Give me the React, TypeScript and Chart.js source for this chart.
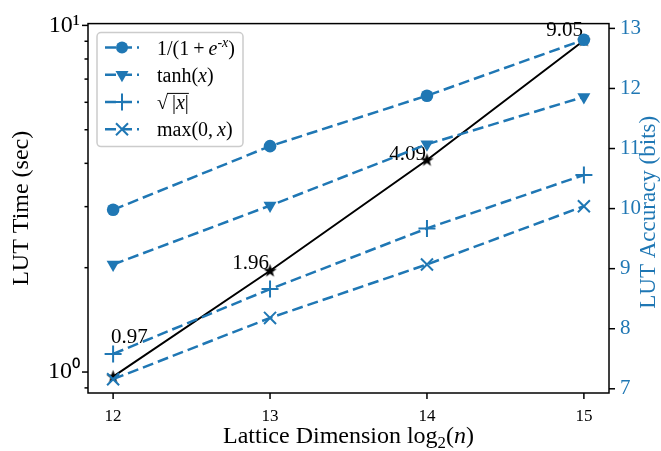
import React, { useEffect, useRef } from 'react';
import { Chart, registerables } from 'chart.js';

Chart.register(...registerables);

// ---------- data ----------
const latticeDims = [12, 13, 14, 15];
const lutTime = [0.97, 1.96, 4.09, 9.05];
const timeLabels = ['0.97', '1.96', '4.09', '9.05'];
const accSigmoid = [9.98, 11.04, 11.88, 12.81];
const accTanh = [9.07, 10.05, 11.07, 11.86];
const accSqrt = [7.58, 8.66, 9.67, 10.56];
const accRelu = [7.16, 8.18, 9.07, 10.04];
const xTicks = [12, 13, 14, 15];
const timeMajorTicks = [1, 10];
const timeMinorTicks = [0.9, 2, 3, 4, 5, 6, 7, 8, 9];
const accTicks = [7, 8, 9, 10, 11, 12, 13];

// ---------- style ----------
const FONT = '"Liberation Serif", "Times New Roman", serif';
const BLUE = '#1f77b4';
const DASH = [11, 5];
// label placement relative to its point: dx, dy, align
const labelPlacement = [
  { dx: -2, dy: -34, align: 'left' },
  { dx: -1, dy: -2, align: 'right' },
  { dx: -1, dy: 0, align: 'right' },
  { dx: -1, dy: -4, align: 'right' },
];

type Run = { t: string; it?: boolean; sup?: boolean; sub?: boolean; over?: boolean };

function fontFor(r: Run, size: number) {
  const s = r.sup || r.sub ? size * 0.7 : size;
  return `${r.it ? 'italic ' : ''}${s}px ${FONT}`;
}

function runsWidth(ctx: CanvasRenderingContext2D, runs: Run[], size: number) {
  let w = 0;
  for (const r of runs) {
    ctx.font = fontFor(r, size);
    w += ctx.measureText(r.t).width;
  }
  return w;
}

function drawRuns(ctx: CanvasRenderingContext2D, runs: Run[], x: number, y: number, size: number) {
  let cx = x;
  let overStart: number | null = null;
  let overEnd = 0;
  ctx.textAlign = 'left';
  ctx.textBaseline = 'alphabetic';
  for (const r of runs) {
    ctx.font = fontFor(r, size);
    const w = ctx.measureText(r.t).width;
    let yy = y;
    if (r.sup) yy = y - size * 0.4;
    if (r.sub) yy = y + size * 0.22;
    ctx.fillText(r.t, cx, yy);
    if (r.over) {
      if (overStart === null) overStart = cx;
      overEnd = cx + w;
    }
    cx += w;
  }
  if (overStart !== null) {
    ctx.save();
    ctx.lineWidth = 1;
    ctx.strokeStyle = ctx.fillStyle as string;
    ctx.beginPath();
    ctx.moveTo(overStart - 1, y - size * 0.78);
    ctx.lineTo(overEnd, y - size * 0.78);
    ctx.stroke();
    ctx.restore();
  }
}

function makeStar(): HTMLCanvasElement {
  const c = document.createElement('canvas');
  c.width = 15;
  c.height = 15;
  const g = c.getContext('2d')!;
  g.fillStyle = '#000';
  g.beginPath();
  for (let i = 0; i < 10; i++) {
    const r = i % 2 === 0 ? 7 : 2.8;
    const a = -Math.PI / 2 + (i * Math.PI) / 5;
    const px = 7.5 + r * Math.cos(a);
    const py = 7.8 + r * Math.sin(a);
    if (i === 0) g.moveTo(px, py);
    else g.lineTo(px, py);
  }
  g.closePath();
  g.fill();
  return c;
}

function drawMarker(ctx: CanvasRenderingContext2D, kind: string, x: number, y: number) {
  ctx.save();
  ctx.fillStyle = BLUE;
  ctx.strokeStyle = BLUE;
  ctx.lineWidth = 2;
  ctx.beginPath();
  if (kind === 'circle') {
    ctx.arc(x, y, 6, 0, Math.PI * 2);
    ctx.fill();
  } else if (kind === 'tri') {
    const r = 7.5;
    ctx.moveTo(x, y + r);
    ctx.lineTo(x - r * 0.866, y - r / 2);
    ctx.lineTo(x + r * 0.866, y - r / 2);
    ctx.closePath();
    ctx.fill();
  } else if (kind === 'plus') {
    ctx.moveTo(x - 8.5, y);
    ctx.lineTo(x + 8.5, y);
    ctx.moveTo(x, y - 8.5);
    ctx.lineTo(x, y + 8.5);
    ctx.stroke();
  } else {
    const d = 6;
    ctx.moveTo(x - d, y - d);
    ctx.lineTo(x + d, y + d);
    ctx.moveTo(x - d, y + d);
    ctx.lineTo(x + d, y - d);
    ctx.stroke();
  }
  ctx.restore();
}

const legendItems: { marker: string; runs: Run[] }[] = [
  { marker: 'circle', runs: [{ t: '1/(1\u2009+\u2009' }, { t: 'e', it: true }, { t: '-x', it: true, sup: true }, { t: ')' }] },
  { marker: 'tri', runs: [{ t: 'tanh(' }, { t: 'x', it: true }, { t: ')' }] },
  { marker: 'plus', runs: [{ t: '√' }, { t: '\u2009|', over: true }, { t: 'x', it: true, over: true }, { t: '|', over: true }] },
  { marker: 'cross', runs: [{ t: 'max(0,\u2009' }, { t: 'x', it: true }, { t: ')' }] },
];

const decorPlugin = {
  id: 'decor',
  afterDatasetDraw(chart: any, args: any) {
    if (args.index !== 4) return;
    const { ctx, scales } = chart;
    ctx.save();
    ctx.fillStyle = '#000';
    ctx.font = `21px ${FONT}`;
    ctx.textBaseline = 'alphabetic';
    latticeDims.forEach((d, i) => {
      const p = labelPlacement[i];
      const x = scales.x.getPixelForValue(d) + p.dx;
      const y = scales.y.getPixelForValue(lutTime[i]) + p.dy;
      ctx.textAlign = p.align;
      ctx.fillText(timeLabels[i], x, y);
    });
    ctx.restore();
  },
  afterDraw(chart: any) {
    const { ctx, chartArea: a, scales } = chart;
    ctx.save();
    ctx.strokeStyle = '#000';
    ctx.lineWidth = 1.5;
    const line = (x1: number, y1: number, x2: number, y2: number) => {
      ctx.beginPath();
      ctx.moveTo(x1, y1);
      ctx.lineTo(x2, y2);
      ctx.stroke();
    };
    xTicks.forEach((v) => {
      const x = scales.x.getPixelForValue(v);
      line(x, a.bottom, x, a.bottom + 6);
    });
    timeMajorTicks.forEach((v) => {
      const y = scales.y.getPixelForValue(v);
      line(a.left, y, a.left - 6, y);
    });
    timeMinorTicks.forEach((v) => {
      const y = scales.y.getPixelForValue(v);
      if (y >= a.top && y <= a.bottom) line(a.left, y, a.left - 3.5, y);
    });
    accTicks.forEach((v) => {
      const y = scales.y1.getPixelForValue(v);
      line(a.right, y, a.right + 6, y);
    });
    ctx.strokeRect(a.left, a.top, a.right - a.left, a.bottom - a.top);

    // axis titles
    ctx.fillStyle = '#000';
    const xt: Run[] = [{ t: 'Lattice Dimension log' }, { t: '2', sub: true }, { t: '(' }, { t: 'n', it: true }, { t: ')' }];
    const xw = runsWidth(ctx, xt, 24);
    drawRuns(ctx, xt, (a.left + a.right) / 2 - xw / 2, 443, 24);

    const midY = (a.top + a.bottom) / 2;
    ctx.save();
    ctx.translate(22, midY);
    ctx.rotate(-Math.PI / 2);
    ctx.font = `24px ${FONT}`;
    ctx.textAlign = 'center';
    ctx.textBaseline = 'middle';
    ctx.fillText('LUT Time (sec)', 0, 0);
    ctx.restore();

    ctx.save();
    ctx.translate(655, midY + 4);
    ctx.rotate(-Math.PI / 2);
    ctx.font = `23px ${FONT}`;
    ctx.fillStyle = BLUE;
    ctx.textAlign = 'center';
    ctx.textBaseline = 'alphabetic';
    ctx.fillText('LUT Accuracy (bits)', 0, 0);
    ctx.restore();

    // legend
    const lx = a.left + 9;
    const ly = a.top + 9;
    const lw = 146;
    const lh = 114;
    ctx.save();
    ctx.fillStyle = 'rgba(255,255,255,0.8)';
    ctx.strokeStyle = '#cccccc';
    ctx.lineWidth = 1.5;
    ctx.beginPath();
    (ctx as any).roundRect(lx, ly, lw, lh, 4);
    ctx.fill();
    ctx.stroke();
    ctx.restore();
    legendItems.forEach((item, i) => {
      const cy = ly + 15 + i * 27.2;
      ctx.save();
      ctx.strokeStyle = BLUE;
      ctx.lineWidth = 2.5;
      ctx.setLineDash(DASH);
      ctx.beginPath();
      ctx.moveTo(lx + 8, cy);
      ctx.lineTo(lx + 42, cy);
      ctx.stroke();
      ctx.restore();
      drawMarker(ctx, item.marker, lx + 25, cy);
      ctx.fillStyle = '#000';
      drawRuns(ctx, item.runs, lx + 60, cy + 7, 20);
    });
    ctx.restore();
  },
};

export default function App() {
  const ref = useRef<HTMLCanvasElement>(null);
  useEffect(() => {
    const star = makeStar();
    const pts = (ys: number[]) => latticeDims.map((x, i) => ({ x, y: ys[i] }));
    const blue = {
      borderColor: BLUE,
      backgroundColor: BLUE,
      pointBackgroundColor: BLUE,
      pointBorderColor: BLUE,
      borderWidth: 2.5,
      borderDash: DASH,
      yAxisID: 'y1',
      fill: false,
      tension: 0,
    };
    const chart = new Chart(ref.current!, {
      type: 'line',
      data: {
        datasets: [
          { label: 'sigmoid', data: pts(accSigmoid), ...blue, pointStyle: 'circle', pointRadius: 6.3, pointBorderWidth: 0 },
          { label: 'tanh', data: pts(accTanh), ...blue, pointStyle: 'triangle', pointRotation: 180, pointRadius: 7.5, pointBorderWidth: 0 },
          { label: 'sqrt', data: pts(accSqrt), ...blue, pointStyle: 'cross', pointRadius: 8.5, pointBorderWidth: 2 },
          { label: 'relu', data: pts(accRelu), ...blue, pointStyle: 'crossRot', pointRadius: 8.5, pointBorderWidth: 2 },
          {
            label: 'time',
            data: pts(lutTime),
            borderColor: '#000',
            backgroundColor: '#000',
            borderWidth: 2,
            yAxisID: 'y',
            pointStyle: star as any,
            pointRadius: 7,
            fill: false,
            tension: 0,
          },
        ] as any,
      },
      options: {
        animation: false,
        responsive: false,
        events: [],
        layout: { padding: { top: 15, left: 0, right: 0, bottom: 0 } },
        plugins: { legend: { display: false }, tooltip: { enabled: false } },
        scales: {
          x: {
            type: 'linear',
            min: 11.84,
            max: 15.16,
            grid: { display: false, drawTicks: false },
            border: { display: false },
            afterBuildTicks: (s: any) => {
              s.ticks = xTicks.map((v) => ({ value: v }));
            },
            afterFit: (s: any) => {
              s.height = 58;
            },
            ticks: {
              autoSkip: false,
              maxRotation: 0,
              padding: 13,
              color: '#000',
              font: { family: FONT, size: 17 },
              callback: (v: any) => String(v),
            },
          },
          y: {
            type: 'logarithmic',
            position: 'left',
            min: 0.87,
            max: 10.12,
            grid: { display: false, drawTicks: false },
            border: { display: false },
            afterBuildTicks: (s: any) => {
              s.ticks = [...timeMinorTicks, ...timeMajorTicks]
                .sort((p, q) => p - q)
                .map((v) => ({ value: v, major: timeMajorTicks.includes(v) }));
            },
            afterFit: (s: any) => {
              s.width = 88;
            },
            ticks: {
              autoSkip: false,
              padding: 8,
              color: '#000',
              font: { family: FONT, size: 24 },
              callback: (v: any) => (v === 1 ? '10\u2070' : v === 10 ? '10\u00b9' : ''),
            },
          },
          y1: {
            type: 'linear',
            position: 'right',
            min: 6.93,
            max: 13.08,
            grid: { display: false, drawTicks: false },
            border: { display: false },
            afterBuildTicks: (s: any) => {
              s.ticks = accTicks.map((v) => ({ value: v }));
            },
            afterFit: (s: any) => {
              s.width = 52;
            },
            ticks: {
              autoSkip: false,
              padding: 11,
              color: BLUE,
              font: { family: FONT, size: 21 },
              callback: (v: any) => String(v),
            },
          },
        },
      } as any,
      plugins: [decorPlugin],
    });
    return () => chart.destroy();
  }, []);
  return (
    <div style={{ position: 'absolute', left: 0, top: 0, width: 661, height: 451, background: '#fff' }}>
      <canvas ref={ref} width={661} height={451} style={{ display: 'block', width: 661, height: 451 }} />
    </div>
  );
}
